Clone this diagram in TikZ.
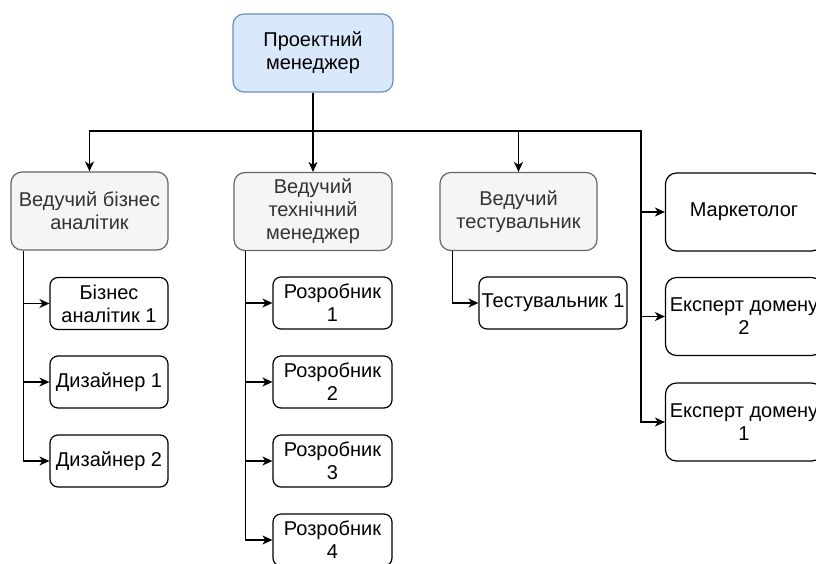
\documentclass[tikz,border=0pt]{standalone}
\usepackage{fontspec}
\setmainfont{Liberation Sans}
\usetikzlibrary{arrows.meta,calc}
\definecolor{pmfill}{HTML}{DAE8FC}
\definecolor{pmline}{HTML}{6C8EBF}
\definecolor{leadfill}{HTML}{F5F5F5}
\definecolor{leadline}{HTML}{666666}
\definecolor{leadtext}{HTML}{333333}
\tikzset{
  box/.style={draw, line width=1.2pt, rounded corners=11pt, align=center,
    font=\fontsize{20}{23}\selectfont, inner sep=1pt,
    minimum width=157pt, minimum height=78pt},
  pmbox/.style={box, fill=pmfill, draw=pmline, minimum width=160pt},
  leadbox/.style={box, fill=leadfill, draw=leadline, text=leadtext},
  sidebox/.style={box, fill=white, draw=black},
  smallbox/.style={box, fill=white, draw=black, rounded corners=8pt,
    minimum height=52pt},
  conn/.style={line width=1.2pt, -{Stealth[length=10pt,width=9pt,inset=3pt]}},
}
\begin{document}
\begin{tikzpicture}[x=1pt,y=-1pt]
\useasboundingbox (0,0) rectangle (816,563);

% project manager
\node[pmbox] (pm) at (313,53) {Проектний\\менеджер};

% leads
\node[leadbox] (lead1) at (89.5,211) {Ведучий бізнес\\аналітик};
\node[leadbox, minimum width=158pt] (lead2) at (313,211.5) {Ведучий\\технічний\\менеджер};
\node[leadbox] (lead3) at (518.5,211.5) {Ведучий\\тестувальник};

% right column
\node[sidebox] (mark) at (744,212) {Маркетолог};
\node[sidebox] (exp2) at (744,316.5) {Експерт домену\\2};
\node[sidebox] (exp1) at (744,422) {Експерт домену\\1};

% business analysis team
\node[smallbox, minimum width=118pt] (ba1) at (109,303.5) {Бізнес\\аналітик 1};
\node[smallbox, minimum width=118pt] (des1) at (109,382) {Дизайнер 1};
\node[smallbox, minimum width=118pt] (des2) at (109,461) {Дизайнер 2};

% development team
\node[smallbox, minimum width=119pt] (dev1) at (332.5,303) {Розробник\\1};
\node[smallbox, minimum width=119pt] (dev2) at (332.5,382) {Розробник\\2};
\node[smallbox, minimum width=119pt] (dev3) at (332.5,461) {Розробник\\3};
\node[smallbox, minimum width=119pt] (dev4) at (332.5,540) {Розробник\\4};

% testing team
\node[smallbox, minimum width=148pt] (test1) at (553,303) {Тестувальник 1};

% bus level and branch points
\coordinate (busy) at (0,131);
\coordinate (rbus) at (641,131);
\coordinate (l1) at ([xshift=13pt]lead1.south west);
\coordinate (l2) at ([xshift=12pt]lead2.south west);
\coordinate (l3) at ([xshift=13pt]lead3.south west);

% manager to leads and right column
\draw[conn] (pm.south) -- (pm.south |- busy) -| (lead1.north);
\draw[conn] (pm.south) -- (lead2.north);
\draw[conn] (pm.south) -- (pm.south |- busy) -| (lead3.north);
\draw[conn] (pm.south) |- (rbus) |- (mark.west);
\draw[conn] (rbus) |- (exp2.west);
\draw[conn] (rbus) |- (exp1.west);

% leads to their teams
\draw[conn] (l1) |- (ba1.west);
\draw[conn] (l1) |- (des1.west);
\draw[conn] (l1) |- (des2.west);
\draw[conn] (l2) |- (dev1.west);
\draw[conn] (l2) |- (dev2.west);
\draw[conn] (l2) |- (dev3.west);
\draw[conn] (l2) |- (dev4.west);
\draw[conn] (l3) |- (test1.west);
\end{tikzpicture}
\end{document}
